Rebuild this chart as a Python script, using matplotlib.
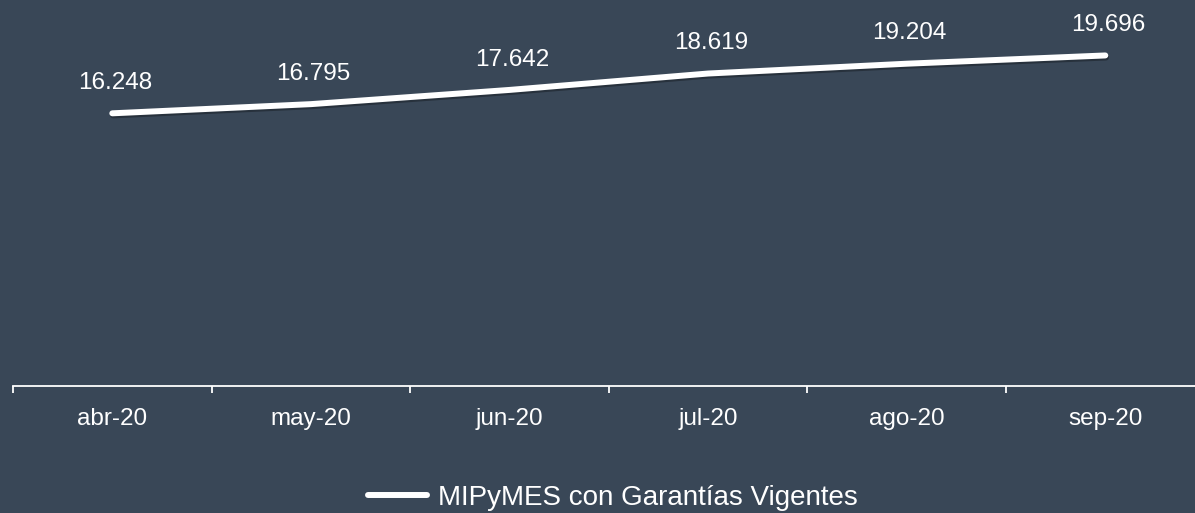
import matplotlib
matplotlib.use('Agg')
import matplotlib.pyplot as plt
import matplotlib.patheffects as pe
import numpy as np

meses   = ['abr-20', 'may-20', 'jun-20', 'jul-20', 'ago-20', 'sep-20']
mipymes = [16248, 16795, 17642, 18619, 19204, 19696]
etiquetas = ['16.248', '16.795', '17.642', '18.619', '19.204', '19.696']

bg = '#394757'
plt.rcParams['font.family'] = ['Liberation Sans', 'DejaVu Sans']

fig = plt.figure(figsize=(11.95, 5.13), dpi=100, facecolor=bg)
ax = fig.add_axes([13/1195, 1 - 386/513, 6*198.6/1195, 386/513])
ax.set_facecolor(bg)

x = np.arange(len(meses))
ax.plot(x, mipymes, color='white', lw=4.3, solid_capstyle='round',
        label='MIPyMES con Garantías Vigentes',
        path_effects=[pe.SimpleLineShadow(offset=(0.5, -1.5), alpha=0.3, shadow_color='black'), pe.Normal()])

# etiquetas de datos sobre cada punto
for xi, v, t in zip(x, mipymes, etiquetas):
  ax.annotate(t, (xi, v), xytext=(2, 17.5), textcoords='offset points',
              ha='center', va='baseline', color='white', fontsize=17.5)

ax.set_xlim(-0.5, len(meses) - 0.5)
ax.set_ylim(0, 23000)

ax.set_xticks(x)
ax.set_xticklabels(meses, color='white', fontsize=17.5)
ax.set_xticks(np.arange(len(meses) + 1) - 0.5, minor=True)
ax.tick_params(axis='x', which='major', length=0, pad=15.5)
ax.tick_params(axis='x', which='minor', length=5, width=1.3, color='white')
ax.set_yticks([])

for s in ['top', 'right', 'left']:
  ax.spines[s].set_visible(False)
ax.spines['bottom'].set_color('white')
ax.spines['bottom'].set_linewidth(1.3)

leg = fig.legend(loc='center', bbox_to_anchor=(613/1195, 1 - 498/513), frameon=False,
                 fontsize=20, handlelength=2.1, handletextpad=0.4, labelcolor='white')
for h in leg.get_lines():
  h.set_path_effects([])

fig.savefig('out.png', dpi=100, facecolor=bg)
